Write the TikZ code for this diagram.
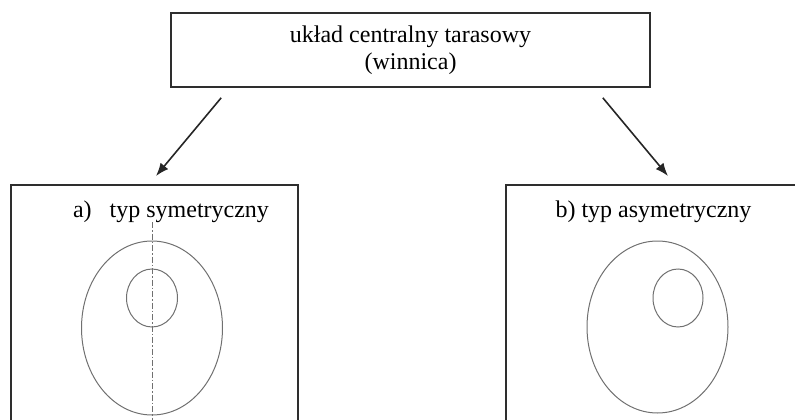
\documentclass[tikz,border=0pt]{standalone}
\usepackage{fontspec}
\setmainfont{Liberation Serif}
\usepackage{tikz}
\usetikzlibrary{arrows.meta}
\definecolor{boxline}{HTML}{2E2E2E}
\definecolor{planline}{HTML}{707070}
\tikzset{
  box/.style = {draw=boxline, line width=1.6pt, rectangle, inner sep=0pt,
    align=center, font=\fontsize{24}{27}\selectfont},% ramka
  typbox/.style = {box, anchor=north west},% ramka typu
  label_t/.style = {anchor=base, inner sep=0pt, font=\fontsize{24}{27}\selectfont},
  plan/.style = {draw=planline, line width=1pt},% obrys widowni
  axis/.style = {draw=planline, line width=1pt,
    dash pattern=on 6pt off 2pt on 1.5pt off 2pt},% os symetrii
  arr/.style = {-{Latex[length=13pt,width=10pt]}, line width=1.6pt, draw=black!85}
}

\begin{document}
\begin{tikzpicture}[x=1pt, y=-1pt]
	\useasboundingbox (0,0) rectangle (795,420);
	\clip (0,0) rectangle (795,420);
	% uklad centralny
	\node [box, minimum width=479pt, minimum height=74pt] (top) at (410.5,50)
		{układ centralny tarasowy\\(winnica)};
	% dwa typy
	\node [typbox, minimum width=287pt, minimum height=260pt] (boxA) at (10,184) {};
	\node [typbox, minimum width=310pt, minimum height=260pt] (boxB) at (505,184) {};
	\node [label_t] (labA) at (171,217) {a)\hspace{12pt} typ symetryczny};
	\node [label_t] (labB) at (653.5,217) {b) typ asymetryczny};
	% strzalki
	\coordinate (a1) at ([xshift=51pt,yshift=-10pt]top.south west);
	\coordinate (a2) at ([xshift=146pt,yshift=8pt]boxA.north west);
	\coordinate (b1) at ([xshift=-48pt,yshift=-10pt]top.south east);
	\coordinate (b2) at ([xshift=163pt,yshift=8pt]boxB.north west);
	\draw [arr] (a1) -- (a2);
	\draw [arr] (b1) -- (b2);
	% typ a
	\draw [plan] (152,328) ellipse [x radius=70.5, y radius=87];
	\draw [plan] (152,298) ellipse [x radius=25.5, y radius=29];
	\coordinate (axtop) at (152,222);
	\coordinate (axbot) at (152,425);
	\draw [axis] (axtop) -- (axbot);
	% typ b
	\draw [plan] (657.5,327) ellipse [x radius=70.5, y radius=86];
	\draw [plan] (678,298) ellipse [x radius=25, y radius=29];
\end{tikzpicture}
\end{document}
